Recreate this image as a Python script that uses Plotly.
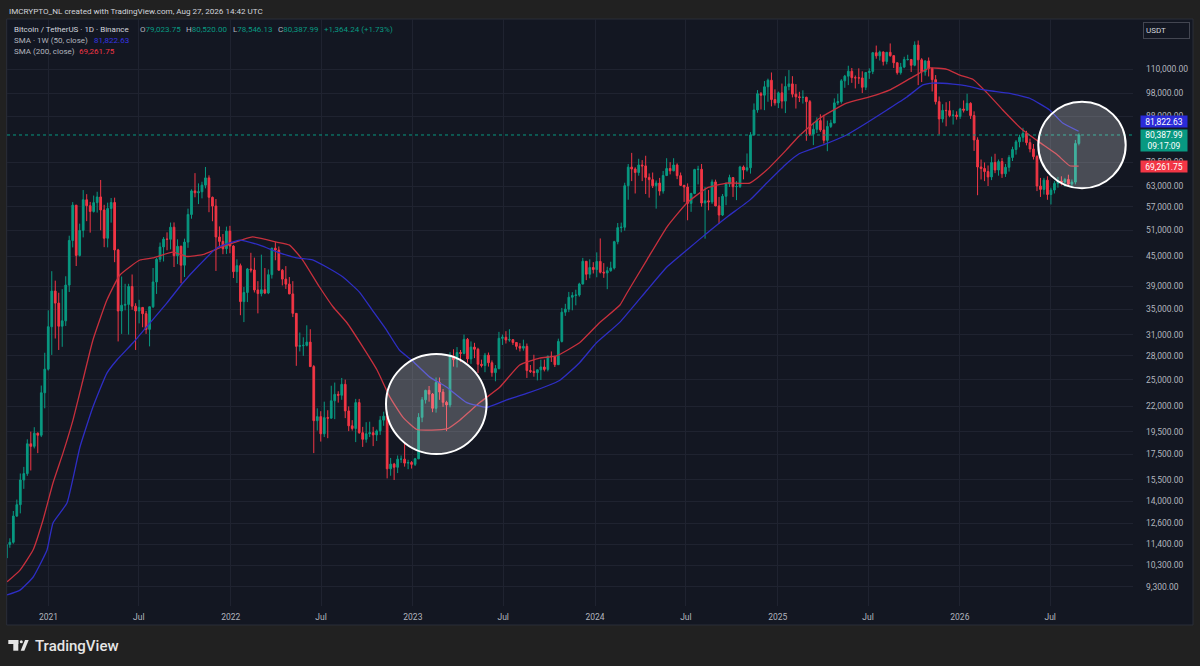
import numpy as np
import pandas as pd
import plotly.graph_objects as go

# ---------------- data (weekly candles) ----------------
first_open = 10670
week_high = [
    # 2020 (from week of Oct 5)
    11500, 11720, 13350, 14100, 15970, 16480, 18800, 19500, 19920, 19420, 24300, 28420, 34800,
    # 2021
    41950, 40100, 37850, 38500, 40950, 49700, 58350, 57500, 52640, 61800, 60600, 58400, 60200,
    61300, 64850, 57600, 58200, 59500, 59600, 46670, 40900, 39500, 39500, 41300, 36000, 36600,
    35300, 34700, 34500, 42600, 44700, 48100, 49380, 50500, 52920, 52950, 48850, 47400, 49000,
    56560, 62000, 67000, 63800, 64300, 69000, 66300, 59900, 59200, 51950, 50100, 51900, 52100,
    # 2022
    47500, 44400, 43500, 38900, 42600, 45800, 44750, 40000, 45400, 42600, 42300, 46900, 48200,
    47200, 42400, 42980, 40800, 40000, 34300, 31300, 30600, 32400, 31800, 26800, 21800, 21500,
    22500, 21600, 24280, 24650, 23650, 25200, 25000, 22000, 20600, 22800, 22800, 19950, 20400,
    20450, 19950, 19700, 21000, 21450, 21450, 17200, 16800, 17400, 17400, 18400, 17050, 16950,
    # 2023
    17200, 21300, 23000, 23820, 24250, 23450, 25250, 25250, 23900, 22600, 28500, 28900, 29200,
    28800, 31000, 30500, 30000, 29800, 29100, 27500, 28400, 28450, 27400, 26800, 31400, 31000,
    31500, 31800, 30350, 29900, 29750, 30250, 29700, 26800, 28150, 26150, 27500, 27500, 28050,
    28600, 28000, 30400, 35200, 35900, 38000, 37950, 38400, 39700, 44700, 44000, 44400, 43800,
    # 2024
    45900, 49050, 43600, 42850, 43900, 48500, 52800, 52900, 64000, 70000, 73800, 68900, 71750,
    71300, 72800, 66900, 67200, 64700, 65500, 67700, 71950, 70600, 71950, 70200, 67200, 63350,
    63800, 61000, 68400, 69400, 70000, 62700, 61800, 65000, 64950, 59800, 60650, 64100, 66500,
    65600, 64500, 69400, 69500, 73600, 81500, 93450, 99600, 98700, 104000, 105200, 108350, 99950,
    98900,
    # 2025
    102750, 106400, 109600, 106450, 102500, 98800, 99500, 96500, 95000, 85300, 87450, 88750,
    88500, 86100, 86450, 95750, 97900, 104950, 107100, 111900, 110700, 106800, 110500, 108950,
    108500, 110500, 119500, 123200, 120250, 119800, 119400, 124450, 117650, 113500, 113400,
    116800, 117900, 115450, 125700, 126200, 116000, 114800, 116400, 110800, 107000, 96600,
    93100, 94000, 94500, 90500, 90000, 91500,
    # 2026
    94800, 97900, 94000, 90000, 79500, 71500, 70500, 69500, 72500, 73500, 71500, 72000, 70000,
    73000, 76000, 78500, 80500, 83200, 82000, 79000, 77000, 73000, 65500, 65500, 66000, 62500,
    64500, 65800, 66000, 65500, 66500, 65000, 78500, 81000,
]
week_low = [
    # 2020
    10530, 11200, 11420, 12980, 13200, 14840, 15790, 16200, 18000, 17600, 19000, 21800, 26100,
    # 2021
    28130, 30420, 28800, 29240, 32300, 37990, 47000, 43000, 45000, 49300, 53270, 50430, 55500,
    55500, 51000, 47050, 47000, 52900, 43800, 30000, 31100, 34800, 31000, 34900, 28800, 32700,
    32100, 31100, 29300, 35200, 37640, 43800, 43950, 46350, 46550, 42800, 43390, 39600, 40800,
    46900, 53900, 59700, 57800, 59400, 62300, 55600, 53250, 42000, 47100, 45500, 45550, 45700,
    # 2022
    40600, 39650, 34000, 32900, 36200, 41700, 37900, 34300, 37200, 37600, 37600, 40500, 44200,
    42100, 39200, 38550, 37600, 33700, 26700, 28600, 28000, 29300, 26550, 17600, 19600, 18600,
    19000, 18900, 20750, 20700, 22400, 22700, 20800, 19550, 19600, 18550, 19300, 18130, 18500,
    19000, 18200, 18650, 19200, 20050, 15600, 15800, 15480, 16000, 16800, 16500, 16300, 16350,
    # 2023
    16550, 17100, 20400, 22300, 22500, 21400, 21350, 22700, 21950, 19550, 21900, 26600, 26500,
    27200, 28200, 27100, 26950, 27700, 25800, 26500, 25900, 26600, 25350, 24800, 26250, 29500,
    29700, 29950, 29500, 28850, 28600, 28700, 25200, 25800, 25350, 24900, 24950, 26000, 26000,
    27200, 26550, 26800, 29850, 33900, 34500, 34800, 35650, 37150, 39400, 40200, 40550, 41500,
    # 2024
    40750, 41500, 40650, 38500, 41850, 42300, 47700, 50500, 50900, 59000, 64500, 60800, 66200,
    64500, 60650, 59600, 62400, 56550, 60200, 60750, 66050, 66600, 67600, 65100, 63000, 58400,
    53500, 55700, 60600, 63500, 57100, 49000, 56100, 57850, 57200, 52550, 54600, 57500, 62700,
    59800, 58900, 62400, 65050, 67500, 66850, 80200, 89400, 90800, 90500, 94200, 92150, 92500,
    91400,
    # 2025
    91200, 89250, 99500, 96200, 91200, 94100, 93400, 78200, 80000, 76600, 81150, 81600,
    77150, 74400, 83100, 85100, 92800, 93400, 100700, 102000, 103100, 100400, 102600, 98200,
    99600, 105100, 107500, 115700, 114700, 112000, 112650, 116800, 110700, 107250, 107250,
    110600, 114700, 108600, 111600, 102000, 103500, 106700, 106300, 98950, 93000, 80600,
    85300, 83800, 87500, 84500, 86500, 86800,
    # 2026
    89500, 90200, 86800, 74500, 60300, 65000, 64500, 63000, 64800, 67000, 66200, 65500, 65800,
    67500, 71000, 73200, 75800, 77800, 76500, 74000, 71500, 61500, 59800, 60500, 59000, 57700,
    60800, 62500, 63200, 62800, 63000, 62700, 63500, 76500,
]
week_close = [
    # 2020
    11380, 11500, 13030, 13760, 15480, 15960, 18400, 18180, 19360, 19170, 23480, 26280, 32180,
    # 2021
    38150, 36020, 32260, 33100, 39260, 48580, 57500, 45240, 50970, 59000, 57350, 55800, 58200,
    59800, 56200, 49100, 56580, 58230, 46430, 34700, 35660, 35800, 39000, 35500, 34700, 35290,
    34250, 31780, 35400, 39850, 44400, 47100, 48900, 48850, 51760, 45170, 47250, 43170, 48200,
    55000, 61550, 61000, 61300, 63270, 65500, 59700, 57250, 49400, 48370, 46700, 50800, 47300,
    # 2022
    41860, 43080, 36280, 37900, 42400, 42200, 38360, 37700, 38400, 37800, 41260, 46830, 46400,
    42150, 40400, 39440, 37640, 34300, 29300, 29400, 29450, 29900, 26600, 20550, 20950, 19300,
    20850, 20800, 22600, 23300, 23200, 24440, 21530, 20050, 19800, 22400, 19400, 18800, 19300,
    19400, 19200, 19570, 20600, 21000, 16330, 16700, 16450, 17100, 17100, 16780, 16830, 16680,
    # 2023
    17130, 20880, 22700, 23750, 23330, 21800, 24650, 23560, 22430, 22150, 27970, 27500, 28450,
    28330, 30300, 27600, 29200, 28900, 26900, 26750, 28100, 27100, 25850, 26350, 30450, 30600,
    30200, 30250, 29850, 29300, 29050, 29300, 26100, 26000, 25850, 26200, 26550, 26250, 27950,
    27900, 26850, 30000, 34500, 35000, 37050, 37350, 37450, 39450, 43990, 41350, 42700, 42280,
    # 2024
    43950, 41750, 41600, 42050, 42600, 48300, 51650, 51750, 63100, 68950, 68350, 67200, 69650,
    69350, 65650, 64950, 63100, 63900, 61500, 66250, 68500, 67750, 69650, 66200, 63200, 62700,
    58000, 60800, 68150, 68250, 58100, 58700, 58400, 64250, 57300, 54850, 60000, 63600, 65600,
    62800, 62850, 69000, 68000, 68750, 80400, 90600, 97900, 97200, 101200, 104400, 95200, 93700,
    98300,
    # 2025
    94500, 101300, 102600, 97700, 96450, 96150, 96250, 94250, 80700, 82600, 86100, 82350,
    78350, 83750, 85100, 93700, 94300, 104100, 106450, 109000, 105700, 105600, 105550, 100950,
    108350, 108900, 119050, 117300, 119450, 114200, 119300, 117400, 113500, 108250, 111150,
    115250, 115300, 112150, 123500, 115100, 108650, 114500, 110500, 104700, 94250, 86800,
    90400, 90300, 88200, 88400, 87800, 91000,
    # 2026
    90500, 93500, 88200, 78500, 69000, 68500, 67500, 65800, 70500, 68000, 70800, 66800, 68900,
    72200, 75000, 77800, 79500, 81000, 77500, 75200, 72500, 63000, 62000, 64800, 60500, 61800,
    63800, 64500, 64200, 65000, 63600, 64200, 77200, 80387.99,
]

# SMA 1W (50) line
sma50w_dates = [
    "2020-10-10", "2020-11-05", "2020-12-01", "2020-12-29", "2021-01-10", "2021-02-07",
    "2021-03-05", "2021-03-31", "2021-04-28", "2021-05-18", "2021-06-19", "2021-07-23",
    "2021-08-26", "2021-09-27", "2021-10-31", "2021-12-04", "2022-01-19", "2022-02-28",
    "2022-04-09", "2022-05-13", "2022-06-14", "2022-07-12", "2022-08-14", "2022-09-16",
    "2022-10-12", "2022-11-09", "2022-12-05", "2023-01-01", "2023-02-04", "2023-03-10",
    "2023-04-19", "2023-05-29", "2023-07-08", "2023-08-17", "2023-10-22", "2023-12-01",
    "2024-01-04", "2024-02-20", "2024-04-14", "2024-05-24", "2024-07-03", "2024-08-12",
    "2024-09-21", "2024-11-06", "2024-12-10", "2025-01-18", "2025-02-13", "2025-04-01",
    "2025-05-19", "2025-06-28", "2025-08-08", "2025-09-17", "2025-10-19", "2025-11-08",
    "2025-12-18", "2026-01-15", "2026-02-10", "2026-03-02", "2026-04-11", "2026-05-21",
    "2026-06-30", "2026-07-26", "2026-08-27",
]
sma50w_values = [
    8940, 9150, 9730, 11080, 12610, 13870, 18120, 21930, 25790, 27450, 29770, 32750,
    36030, 39650, 43300, 46860, 48680, 47500, 45800, 44700, 44300, 42800, 40800, 37970,
    34800, 31700, 28800, 27300, 25300, 24100, 22400, 21900, 22700, 23400, 24900, 27100,
    29800, 32900, 38300, 42800, 46400, 50300, 54300, 58900, 63900, 70000, 73500, 76600,
    80400, 85100, 90600, 96400, 102100, 103000, 102500, 101600, 100100, 99300, 98100, 95800,
    90600, 85100, 81822.63,
]

# SMA (200) line
sma200_dates = [
    "2020-10-10", "2020-11-05", "2020-12-01", "2020-12-21", "2021-01-10", "2021-01-30",
    "2021-02-19", "2021-03-11", "2021-03-31", "2021-04-28", "2021-05-24", "2021-07-03",
    "2021-07-29", "2021-09-07", "2021-10-05", "2021-11-06", "2021-12-10", "2022-02-14",
    "2022-04-03", "2022-04-29", "2022-05-25", "2022-06-28", "2022-07-25", "2022-08-22",
    "2022-09-23", "2022-10-21", "2022-11-16", "2022-12-12", "2023-01-09", "2023-03-10",
    "2023-04-05", "2023-05-15", "2023-06-24", "2023-08-03", "2023-09-12", "2023-10-16",
    "2023-12-01", "2024-01-10", "2024-02-20", "2024-03-05", "2024-04-14", "2024-05-24",
    "2024-07-03", "2024-08-12", "2024-09-21", "2024-11-06", "2024-12-10", "2025-01-18",
    "2025-02-13", "2025-03-26", "2025-05-19", "2025-07-04", "2025-08-14", "2025-09-29",
    "2025-11-02", "2025-12-06", "2026-01-01", "2026-01-27", "2026-02-24", "2026-03-28",
    "2026-05-07", "2026-06-10", "2026-07-14", "2026-08-09", "2026-08-27",
]
sma200_values = [
    9520, 10070, 11080, 12790, 15260, 17600, 20610, 24950, 30200, 36560, 41200, 44250,
    44700, 45970, 45000, 45400, 46900, 49400, 48200, 47500, 44300, 38900, 35400, 32800,
    29200, 26200, 23000, 20900, 19700, 19750, 20600, 22400, 24100, 26800, 27700, 28000,
    29800, 32800, 35700, 37800, 44300, 51800, 58100, 62400, 63900, 63900, 68000, 74800,
    80000, 87100, 93600, 96400, 99700, 106100, 110700, 110000, 107000, 104900, 98400, 90600,
    82300, 77600, 73300, 69400, 69261.75,
]

last_open, last_high, last_low, last_close = 79023.75, 80520.00, 78546.13, 80387.99
last_change, last_change_pct = 1364.24, 1.73
sma50w_last = 81822.63
sma200_last = 69261.75

price_ticks = [9300, 10300, 11400, 12600, 14000, 15500, 17500, 19500, 22000, 25000, 28000,
               31000, 35000, 39000, 45000, 51000, 57000, 63000, 70500, 88000, 98000, 110000]
time_ticks = ["2021-01-01", "2021-07-01", "2022-01-01", "2022-07-01", "2023-01-01", "2023-07-01",
              "2024-01-01", "2024-07-01", "2025-01-01", "2025-07-01", "2026-01-01", "2026-07-01"]
time_tick_labels = ["2021", "Jul", "2022", "Jul", "2023", "Jul", "2024", "Jul", "2025", "Jul", "2026", "Jul"]

# ---------------- derived series ----------------
week_start = pd.date_range("2020-10-05", periods=len(week_close), freq="7D")
week_center = week_start + pd.Timedelta(days=3.5)
week_open = [first_open] + week_close[:-1]

# ---------------- styling / geometry ----------------
W, H = 1200, 666
ML, MR, MT, MB = 7, 67, 19, 60
PW, PH = W - ML - MR, H - MT - MB


def px(x):
    return (x - ML) / PW


def py(y):
    return (H - MB - y) / PH


UP = "#089981"
DN = "#f23645"
BLUE_LINE = "#2e2ec4"
RED_LINE = "#c8303d"
BG = "#131722"
OUTER = "#212121"
GRID = "#1f2330"
TXT = "#b2b5be"
FONT = "Roboto, Arial, sans-serif"

x_range = ["2020-10-09 20:00", "2026-12-13 22:00"]
y_range = [3.9285, 5.1457]

fig = go.Figure()

fig.add_trace(go.Candlestick(
    x=week_center, open=week_open, high=week_high, low=week_low, close=week_close,
    increasing=dict(line=dict(color=UP, width=1), fillcolor=UP),
    decreasing=dict(line=dict(color=DN, width=1), fillcolor=DN),
    whiskerwidth=0, hoverinfo="skip", showlegend=False,
))

fig.add_trace(go.Scatter(
    x=sma200_dates, y=sma200_values, mode="lines",
    line=dict(color=RED_LINE, width=1.3, shape="spline", smoothing=0.4),
    hoverinfo="skip", showlegend=False,
))
fig.add_trace(go.Scatter(
    x=sma50w_dates, y=sma50w_values, mode="lines",
    line=dict(color=BLUE_LINE, width=1.3, shape="spline", smoothing=0.4),
    hoverinfo="skip", showlegend=False,
))
fig.add_trace(go.Scatter(
    x=x_range, y=[last_close, last_close], mode="lines",
    line=dict(color=UP, width=1, dash="dot"),
    hoverinfo="skip", showlegend=False,
))

LOGO = "#e6e6e6"
shapes = [
    # pane frame (price pane + axes)
    dict(type="rect", xref="paper", yref="paper", x0=px(6.7), x1=px(1193), y0=py(625), y1=py(19),
         fillcolor=BG, line=dict(color="#2a2e39", width=1), layer="below"),
    # highlight circles
    dict(type="circle", xref="paper", yref="paper", x0=px(386), x1=px(486.6), y0=py(454), y1=py(354),
         fillcolor="rgba(255,255,255,0.23)", line=dict(color="#ffffff", width=2), layer="above"),
    dict(type="circle", xref="paper", yref="paper", x0=px(1038.3), x1=px(1125.7), y0=py(188.3), y1=py(101.7),
         fillcolor="rgba(255,255,255,0.23)", line=dict(color="#ffffff", width=2), layer="above"),
    # TradingView logo mark
    dict(type="rect", xref="paper", yref="paper", x0=px(8.3), x1=px(18.3), y0=py(644), y1=py(640),
         fillcolor=LOGO, line=dict(width=0)),
    dict(type="rect", xref="paper", yref="paper", x0=px(13.3), x1=px(18.3), y0=py(650.7), y1=py(640),
         fillcolor=LOGO, line=dict(width=0)),
    dict(type="circle", xref="paper", yref="paper", x0=px(19.8), x1=px(22.8), y0=py(643.2), y1=py(640.2),
         fillcolor=LOGO, line=dict(width=0)),
    dict(type="path", xref="paper", yref="paper",
         path=f"M {px(20.7)},{py(650.7)} L {px(25)},{py(640)} L {px(28.7)},{py(640)} L {px(24.3)},{py(650.7)} Z",
         fillcolor=LOGO, line=dict(width=0)),
]


def fmt(v):
    return f"{v:,.2f}"


def txt(x, y, text, color=TXT, size=8, **kw):
    return dict(xref="paper", yref="paper", x=px(x), y=py(y), text=text, showarrow=False,
                xanchor="left", yanchor="middle", font=dict(family=FONT, size=size, color=color), **kw)


def green(s):
    return f"<span style='color:{UP}'>{s}</span>"


annotations = [
    txt(7, 10.7, "IMCRYPTO_NL created with TradingView.com, Aug 27, 2026 14:42 UTC", color="#d1d4dc", size=8.1),
    txt(12.3, 29, "Bitcoin / TetherUS · 1D · Binance", color="#d1d4dc"),
    txt(137.5, 29, "O" + green(fmt(last_open))),
    txt(184, 29, "H" + green(fmt(last_high))),
    txt(230.5, 29, "L" + green(fmt(last_low))),
    txt(276, 29, "C" + green(fmt(last_close))),
    txt(321.5, 29, green(f"+{last_change:,.2f} (+{last_change_pct:.2f}%)")),
    txt(12.3, 40.5, "SMA · 1W (50, close)"),
    txt(91.5, 40.5, fmt(sma50w_last), color="#3535e0"),
    txt(12.3, 51.7, "SMA (200, close)"),
    txt(77, 51.7, fmt(sma200_last), color=DN),
    txt(1143, 30, "USDT", color="#d1d4dc", size=8, bordercolor="#434651", borderwidth=1,
        borderpad=2, width=41, height=11, align="left", bgcolor=BG),
    dict(xref="paper", yref="paper", x=px(33), y=py(646), text="TradingView", showarrow=False,
         xanchor="left", yanchor="middle", font=dict(family=FONT, size=15, color=LOGO, weight=500)),
]

for val, bg, shift, lines in [
    (sma50w_last, "#2b2bd9", 9.5, fmt(sma50w_last)),
    (last_close, UP, -5.5, fmt(last_close) + "<br>09:17:09"),
    (sma200_last, DN, 0, fmt(sma200_last)),
]:
    annotations.append(dict(
        xref="paper", yref="y", x=1, xshift=7, y=np.log10(val), yshift=shift,
        text=lines, showarrow=False, xanchor="left", yanchor="middle",
        bgcolor=bg, width=44, height=19 if "<br>" in lines else 9, borderpad=1,
        font=dict(family=FONT, size=8.5, color="#ffffff"), align="center",
    ))

fig.update_layout(
    width=W, height=H,
    margin=dict(l=ML, r=MR, t=MT, b=MB, pad=0),
    paper_bgcolor=OUTER, plot_bgcolor=BG,
    template="none",
    showlegend=False,
    font=dict(family=FONT, color=TXT, size=8),
    shapes=shapes, annotations=annotations,
    xaxis=dict(
        type="date", range=x_range, tickvals=time_ticks, ticktext=time_tick_labels,
        showgrid=True, gridcolor=GRID, gridwidth=1, zeroline=False, showline=False,
        ticks="", tickfont=dict(family=FONT, size=8.5, color=TXT),
        rangeslider=dict(visible=False), automargin=False, fixedrange=True,
        ticklabelstandoff=4,
    ),
    yaxis=dict(
        type="log", side="right", range=y_range,
        tickvals=price_ticks, ticktext=[fmt(v) for v in price_ticks],
        showgrid=True, gridcolor=GRID, gridwidth=1, zeroline=False, showline=False,
        ticks="", tickfont=dict(family=FONT, size=8.5, color=TXT),
        automargin=False, fixedrange=True, ticklabelstandoff=12,
    ),
)

fig.write_html(
    "out.html",
    config={"displayModeBar": False, "staticPlot": True},
    post_script="document.body.style.margin='0';document.body.style.overflow='hidden';",
)
